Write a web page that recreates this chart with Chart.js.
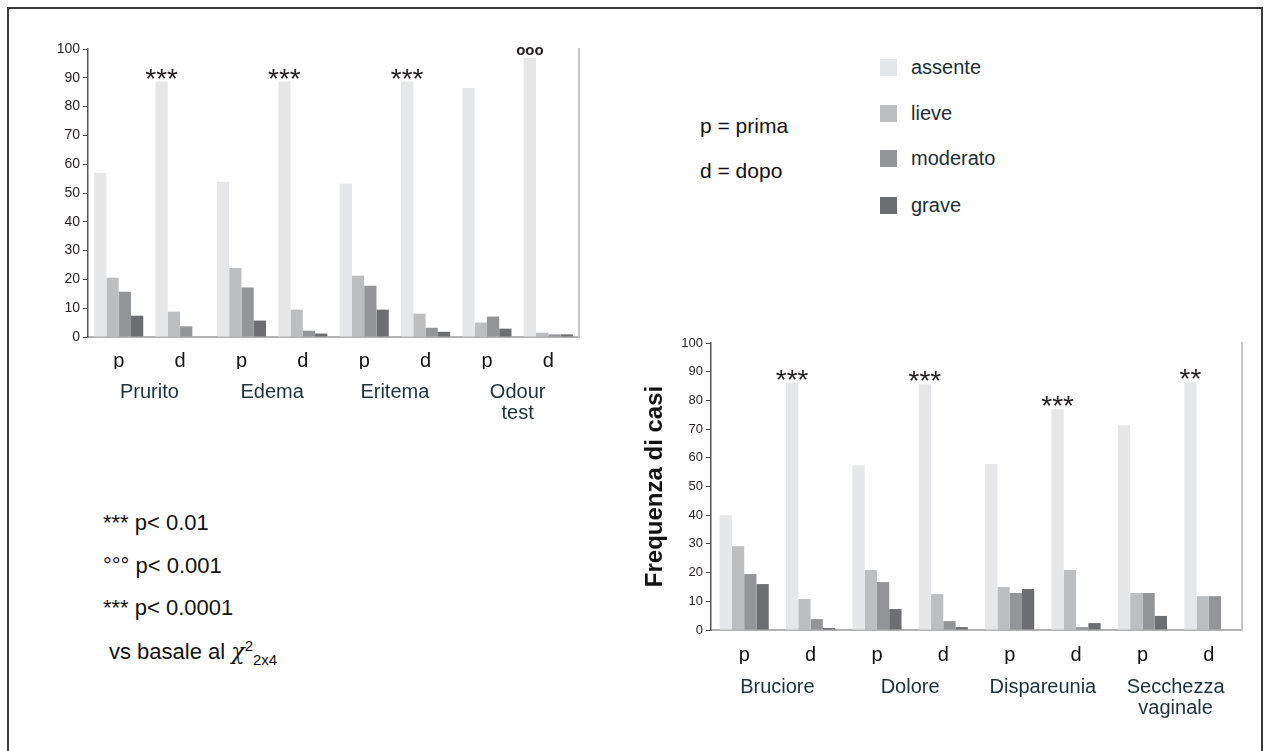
<!DOCTYPE html>
<html>
<head>
<meta charset="utf-8">
<script src="https://cdn.jsdelivr.net/npm/chart.js@4.4.1/dist/chart.umd.min.js"></script>
<style>
  body { margin: 0; background: #fff; font-family: "Liberation Sans", Arial, sans-serif; }
  #page { position: relative; width: 1268px; height: 751px; overflow: hidden; }
  #frame { position: absolute; left: 7px; top: 7px; width: 1252px; height: 760px; border: 2px solid #3a3a3a; }
  .wrap { position: absolute; }
  .key { position: absolute; left: 880px; height: 24px; line-height: 24px; font-size: 20px; color: #1c2e33; }
  .key i { position: absolute; left: 0; top: 4px; width: 17px; height: 17px; }
  .key span { position: absolute; left: 31px; white-space: nowrap; }
  .note { position: absolute; font-size: 21px; color: #111; white-space: nowrap; }
  .sig { position: absolute; left: 103px; font-size: 22px; color: #111; white-space: nowrap; }
  .sig sup { font-size: 15px; }
  .sig sub { font-size: 15px; vertical-align: -6px; }
</style>
</head>
<body>
<div id="page">
  <div id="frame"></div>
  <div class="wrap" style="left:30px; top:30px; width:560px; height:403px;"><canvas id="left"></canvas></div>
  <div class="wrap" style="left:620px; top:320px; width:632px; height:412px;"><canvas id="right"></canvas></div>

  <div class="note" style="left:700px; top:114px;">p = prima</div>
  <div class="note" style="left:700px; top:159px;">d = dopo</div>

  <div class="key" style="top:55px;"><i style="background:#e6e7e8"></i><span>assente</span></div>
  <div class="key" style="top:101px;"><i style="background:#bcbec0"></i><span>lieve</span></div>
  <div class="key" style="top:146px;"><i style="background:#939598"></i><span>moderato</span></div>
  <div class="key" style="top:193px;"><i style="background:#6d6e71"></i><span>grave</span></div>

  <div class="sig" style="top:510px;">*** p&lt; 0.01</div>
  <div class="sig" style="top:553px;">°°° p&lt; 0.001</div>
  <div class="sig" style="top:595px;">*** p&lt; 0.0001</div>
  <div class="sig" style="top:637px; left:109px;">vs basale al <span style="font-family:'DejaVu Serif', serif; font-style:italic;">χ</span><sup>2</sup><sub>2x4</sub></div>
</div>

<script>
// values (percent of cases)
const barLabels = ['p', 'd', 'p', 'd', 'p', 'd', 'p', 'd']
const severity = ['assente', 'lieve', 'moderato', 'grave']
const severityColors = ['#e6e7e8', '#bcbec0', '#939598', '#6d6e71']
const yTicks = [0, 10, 20, 30, 40, 50, 60, 70, 80, 90, 100]

// left chart
const leftGroups = ['Prurito', 'Edema', 'Eritema', ['Odour', 'test']]
const leftAssente = [57.0, 88.7, 53.9, 88.7, 53.2, 88.7, 86.5, 96.9]
const leftLieve = [20.6, 8.8, 24.0, 9.5, 21.3, 8.1, 5.0, 1.5]
const leftModerato = [15.7, 3.7, 17.2, 2.2, 17.8, 3.2, 7.1, 0.9]
const leftGrave = [7.4, 0, 5.7, 1.2, 9.5, 1.8, 2.9, 0.9]
const leftSig = ['', '***', '', '***', '', '***', '', 'ooo']

// right chart
const rightGroups = ['Bruciore', 'Dolore', 'Dispareunia', ['Secchezza', 'vaginale']]
const rightAssente = [40.0, 86.1, 57.4, 85.6, 57.8, 76.9, 71.3, 86.3]
const rightLieve = [29.2, 10.8, 20.9, 12.5, 15.0, 20.9, 12.9, 11.8]
const rightModerato = [19.5, 3.8, 16.7, 3.1, 12.9, 1.0, 12.9, 11.8]
const rightGrave = [16.0, 0.7, 7.3, 1.0, 14.3, 2.4, 4.9, 0]
const rightSig = ['', '***', '', '***', '', '***', '', '**']

const FONT = '"Liberation Sans", Arial, sans-serif'

// stars / circles above the "assente" bar of each column
const sigMarks = {
  id: 'sigMarks',
  afterDatasetsDraw(chart, args, opts) {
    const meta = chart.getDatasetMeta(0)
    const ctx = chart.ctx
    ctx.save()
    ctx.textAlign = 'center'
    ctx.textBaseline = 'alphabetic'
    ctx.fillStyle = '#231f20'
    opts.marks.forEach((m, i) => {
      if (!m) return
      const bar = meta.data[i]
      if (m[0] == '*') {
        ctx.font = '28px ' + FONT
        ctx.fillText(m, bar.x, bar.y + 6)
      } else {
        ctx.font = 'bold 15px ' + FONT
        ctx.fillText(m, bar.x, bar.y - 3)
      }
    })
    ctx.restore()
  }
}

function makeDatasets(values) {
  return values.map((data, i) => ({
    label: severity[i],
    data: data,
    backgroundColor: severityColors[i],
    borderWidth: 0
  }))
}

function buildChart(id, o) {
  return new Chart(document.getElementById(id), {
    type: 'bar',
    data: {
      labels: barLabels,
      datasets: makeDatasets(o.values)
    },
    plugins: [sigMarks],
    options: {
      responsive: true,
      maintainAspectRatio: false,
      animation: false,
      layout: { padding: { top: o.padTop, right: o.padRight, left: 0, bottom: 0 } },
      datasets: { bar: { categoryPercentage: o.catPct, barPercentage: 1 } },
      plugins: {
        legend: { display: false },
        tooltip: { enabled: false },
        sigMarks: { marks: o.sig }
      },
      scales: {
        x: {
          weight: 0,
          grid: { display: false },
          border: { color: '#b3b3b3', width: 2 },
          ticks: { color: '#111', font: { family: FONT, size: 20 }, padding: o.pdPad },
          afterFit: (s) => { s.height = o.pdHeight }
        },
        x2: {
          type: 'category',
          position: 'bottom',
          weight: 1,
          labels: o.groups,
          offset: true,
          grid: { display: false },
          border: { display: false },
          ticks: { color: '#1c3139', font: { family: FONT, size: 20, lineHeight: 1.05 }, padding: o.groupPad, maxRotation: 0 },
          afterFit: (s) => { s.height = o.groupHeight }
        },
        y: {
          min: 0,
          max: 100,
          afterBuildTicks: (s) => { s.ticks = yTicks.map(v => ({ value: v })) },
          grid: { drawOnChartArea: false, tickLength: 5, color: '#444', lineWidth: 1 },
          border: { color: '#555', width: 1.5 },
          ticks: { color: '#231f20', font: { family: o.tickFamily, size: o.tickSize }, padding: 3 },
          title: o.yTitle,
          afterFit: (s) => { s.width = o.yWidth }
        },
        y2: {
          position: 'right',
          min: 0,
          max: 100,
          grid: { display: false },
          ticks: { display: false },
          border: { color: '#c8c8c8', width: 2 },
          afterFit: (s) => { s.width = 0 }
        }
      }
    }
  })
}

buildChart('left', {
  values: [leftAssente, leftLieve, leftModerato, leftGrave],
  groups: leftGroups,
  sig: leftSig,
  padTop: 19,
  padRight: 11,
  catPct: 0.8,
  pdPad: 4, pdHeight: 32,
  groupPad: 5, groupHeight: 64,
  tickFamily: '"Liberation Sans Narrow", "Arial Narrow", ' + FONT,
  tickSize: 14,
  yWidth: 58,
  yTitle: { display: false }
})

buildChart('right', {
  values: [rightAssente, rightLieve, rightModerato, rightGrave],
  groups: rightGroups,
  sig: rightSig,
  padTop: 23,
  padRight: 10,
  catPct: 0.74,
  pdPad: 5, pdHeight: 34,
  groupPad: 5, groupHeight: 68,
  tickFamily: FONT,
  tickSize: 13,
  yWidth: 91,
  yTitle: {
    display: true,
    text: 'Frequenza di casi',
    color: '#111',
    font: { family: FONT, size: 24, weight: 'bold' },
    padding: { top: 21, bottom: 0 }
  }
})
</script>
</body>
</html>
